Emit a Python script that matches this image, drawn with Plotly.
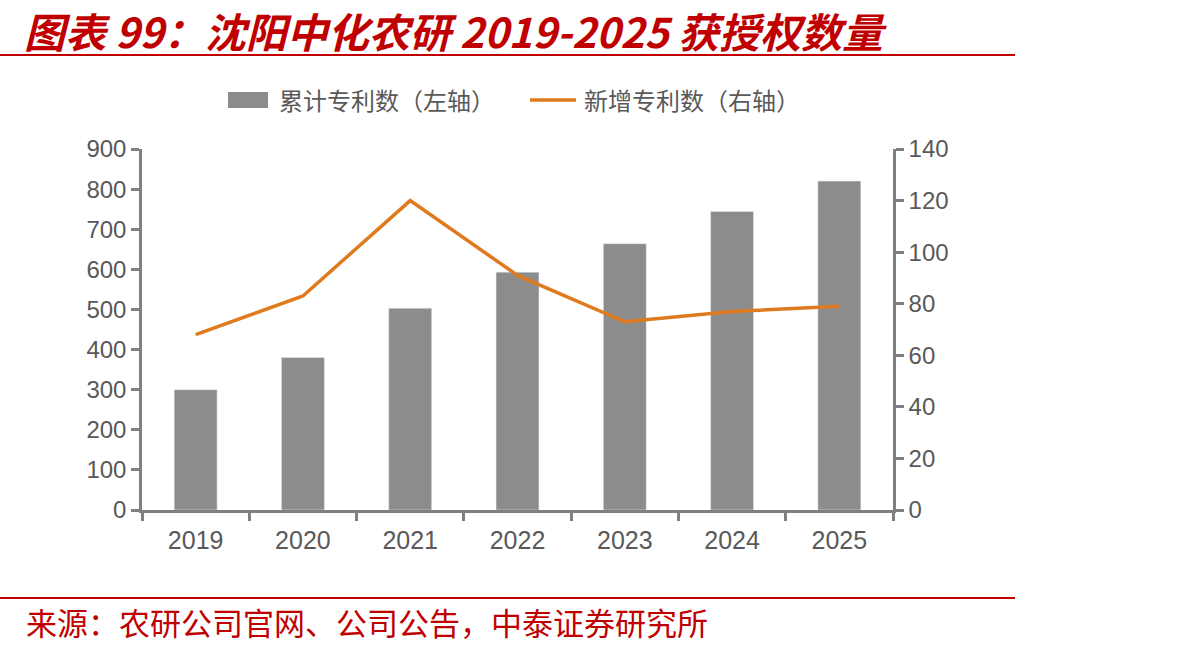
import plotly.graph_objects as go

years = ["2019", "2020", "2021", "2022", "2023", "2024", "2025"]
cumulative = [300, 380, 503, 593, 664, 744, 820]
new_added = [68, 83, 120, 91, 73, 77, 79]

left_ticks = [0, 100, 200, 300, 400, 500, 600, 700, 800, 900]
right_ticks = [0, 20, 40, 60, 80, 100, 120, 140]

title_text = "图表 99：沈阳中化农研 2019-2025 获授权数量"
source_text = "来源：农研公司官网、公司公告，中泰证券研究所"
legend_bar = "累计专利数（左轴）"
legend_line = "新增专利数（右轴）"

W, H = 1192, 651
L, R, T, B = 142, 299, 149, 141

BAR_COLOR = "#8C8C8C"
LINE_COLOR = "#E07A1F"
AXIS_COLOR = "#808080"
TEXT_COLOR = "#595959"
RED = "#C00000"

fig = go.Figure()
fig.add_trace(go.Bar(x=years, y=cumulative, marker_color=BAR_COLOR, name=legend_bar,
                     showlegend=False, yaxis="y"))
fig.add_trace(go.Scatter(x=years, y=new_added, mode="lines", line=dict(color=LINE_COLOR, width=3.5),
                         name=legend_line, showlegend=False, yaxis="y2"))

tickfont = dict(family="Liberation Sans, Arial, sans-serif", size=24, color=TEXT_COLOR)
xtickfont = dict(family="Liberation Sans, Arial, sans-serif", size=25, color=TEXT_COLOR)

fig.update_layout(
    width=W, height=H,
    margin=dict(l=L, r=R, t=T, b=B),
    paper_bgcolor="white", plot_bgcolor="white",
    bargap=0.6,
    xaxis=dict(type="category", showline=True, linecolor=AXIS_COLOR, linewidth=2.5,
               ticks="outside", tickson="boundaries", ticklen=8, tickwidth=2.5, tickcolor=AXIS_COLOR,
               tickfont=xtickfont, ticklabelstandoff=6, showgrid=False, zeroline=False),
    yaxis=dict(range=[0, 900], tickvals=left_ticks, showline=True, linecolor=AXIS_COLOR, linewidth=2.5,
               ticks="outside", ticklen=8, tickwidth=2.5, tickcolor=AXIS_COLOR,
               tickfont=tickfont, showgrid=False, zeroline=False),
    yaxis2=dict(range=[0, 140], tickvals=right_ticks, overlaying="y", side="right",
                showline=True, linecolor=AXIS_COLOR, linewidth=2.5,
                ticks="outside", ticklen=8, tickwidth=2.5, tickcolor=AXIS_COLOR,
                tickfont=tickfont, showgrid=False, zeroline=False),
    showlegend=False,
)

pw = W - L - R
ph = H - T - B
def fx(x):
    return (x - L) / pw
def fy(y):
    return (H - B - y) / ph

shapes = [
    dict(type="line", xref="paper", yref="paper", x0=fx(0), x1=fx(1015), y0=fy(55), y1=fy(55),
         line=dict(color=RED, width=2)),
    dict(type="line", xref="paper", yref="paper", x0=fx(0), x1=fx(1015), y0=fy(598), y1=fy(598),
         line=dict(color=RED, width=2)),
    dict(type="rect", xref="paper", yref="paper", x0=fx(228), x1=fx(268), y0=fy(108), y1=fy(92),
         fillcolor=BAR_COLOR, line=dict(width=0)),
    dict(type="line", xref="paper", yref="paper", x0=fx(530), x1=fx(576), y0=fy(100), y1=fy(100),
         line=dict(color=LINE_COLOR, width=3.5)),
]

annotations = [
    dict(text="<b><i>" + title_text + "</i></b>", xref="paper", yref="paper", x=fx(22), y=fy(30),
         xanchor="left", yanchor="middle", showarrow=False,
         font=dict(family="Noto Sans CJK SC, Liberation Sans, sans-serif", size=41, color=RED)),
    dict(text=source_text, xref="paper", yref="paper", x=fx(24), y=fy(621),
         xanchor="left", yanchor="middle", showarrow=False,
         font=dict(family="Noto Sans CJK SC, sans-serif", size=31, color=RED)),
    dict(text=legend_bar, xref="paper", yref="paper", x=fx(277), y=fy(100),
         xanchor="left", yanchor="middle", showarrow=False,
         font=dict(family="Noto Sans CJK SC, sans-serif", size=24, color=TEXT_COLOR)),
    dict(text=legend_line, xref="paper", yref="paper", x=fx(582), y=fy(100),
         xanchor="left", yanchor="middle", showarrow=False,
         font=dict(family="Noto Sans CJK SC, sans-serif", size=24, color=TEXT_COLOR)),
]

fig.update_layout(shapes=shapes, annotations=annotations)
fig.write_html("out.html")
